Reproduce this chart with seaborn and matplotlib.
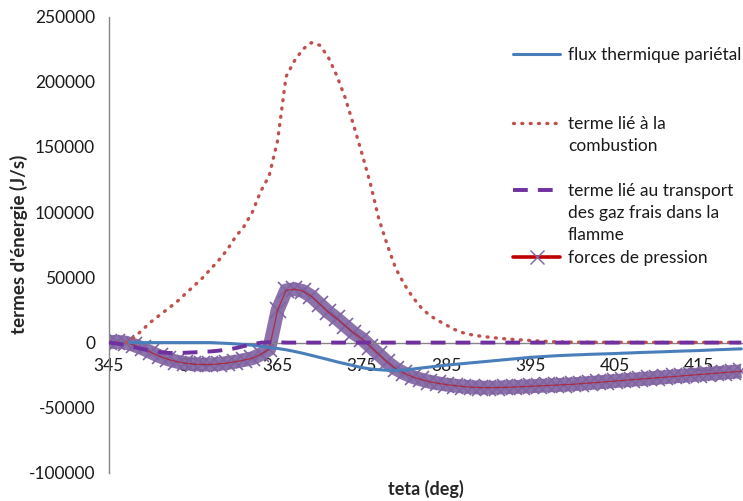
import numpy as np
import pandas as pd
import matplotlib
matplotlib.use("Agg")
import matplotlib.pyplot as plt
from matplotlib.lines import Line2D
import seaborn as sns

# crank angle (deg), one value per degree
teta = list(range(345, 421))

flux_parietal = [0, 0, 0, 0, 0, 0, 0, 0, 0, 0, 0, 0, 0,
                 -300, -600, -1000, -1500, -2000, -2700, -3800,
                 -4500, -5500, -6800, -8200, -9800, -11400, -13000, -14700,
                 -16200, -17700, -19200, -20200, -20800, -21200, -21300, -21000,
                 -20300, -19500, -18800, -18000, -17300, -16700, -16100, -15500,
                 -14900, -14300, -13700, -13100, -12500, -11900, -11300, -10900,
                 -10500, -10100, -9800, -9500,
                 -9300, -9000, -8800, -8600, -8400, -8100, -7900, -7600, -7400, -7200,
                 -7000, -6700, -6500, -6300, -6100, -5800, -5500, -5300, -5000, -4800]

combustion = [0, 0, 0, 4000, 10000, 16000, 21000, 26000, 31000, 37000,
              43000, 49000, 56000, 63000, 71000, 81000, 89000, 100000, 116000, 128000,
              155000, 204000, 216000, 225000, 230000, 228000, 219000, 205000, 188000, 167000,
              145000, 122000, 95000, 75000, 57000, 45000, 35000, 27000, 21000, 17000,
              13500, 10000, 7500, 6000, 5000, 4200, 3500, 2900, 2400, 2000,
              1600, 1200, 900, 600, 450, 350,
              300, 300, 250, 250, 250, 200, 200, 200, 200, 200,
              150, 150, 150, 150, 150, 150, 100, 100, 100, 100]

transport = [0, -800, -2000, -3500, -5000, -6300, -7300, -7900, -8000, -7800,
             -7500, -7200, -6800, -6200, -5300, -4300, -2700, -1200, -100, 300, 300] + [0] * 55

pression = [500, 500, 0, -2000, -4500, -7500, -10500, -12800, -14600, -15800,
            -16500, -16800, -16800, -16400, -15700, -14700, -13400, -12000, -9000, -5000,
            25000, 40000, 41000, 39500, 35500, 29500, 23500, 18500, 13000, 7500,
            3000, -3000, -9000, -15000, -20000, -23500, -26300, -28300, -30000, -31200,
            -32200, -33000, -33700, -34200, -34500, -34600, -34500, -34300, -34100, -33800,
            -33500, -33200, -32900, -32600, -32300, -32000,
            -31500, -31000, -30500, -30000, -29500, -29000, -28500, -28000, -27500, -27000,
            -26500, -26000, -25500, -25000, -24500, -24000, -23500, -23000, -22500, -22000]

labels = ["flux thermique pariétal",
          "terme lié à la\ncombustion",
          "terme lié au transport\ndes gaz frais dans la\nflamme",
          "forces de pression"]

blue, red_dot, purple, red_line, lilac = "#4A7EBB", "#C0504D", "#7030A0", "#C00000", "#8064A2"
dotted = (0, (0.3, 2.2))
dashed = (0, (3.8, 2.6))

sns.set_style("white")
plt.rcParams["font.family"] = ["Lato", "DejaVu Sans"]
plt.rcParams["axes.unicode_minus"] = False

df = pd.DataFrame({"teta": teta, "flux": flux_parietal, "comb": combustion,
                   "transp": transport, "press": pression})

fig = plt.figure(figsize=(7.43, 5.01), dpi=100)
ax = fig.add_axes([0.1467, 0.0559, 0.8533, 0.911])

# forces de pression: dense purple X markers forming a band, red line through it
sns.lineplot(data=df, x="teta", y="press", ax=ax, color=lilac, lw=10, alpha=0.9,
             solid_capstyle="butt", legend=False, zorder=2)
sns.lineplot(data=df, x="teta", y="press", ax=ax, color=lilac, lw=0, marker="x",
             markersize=11, markeredgecolor=lilac, markeredgewidth=1.2,
             legend=False, zorder=2)
sns.lineplot(data=df, x="teta", y="press", ax=ax, color=red_line, lw=0.9,
             alpha=0.6, legend=False, zorder=3)

sns.lineplot(data=df, x="teta", y="flux", ax=ax, color=blue, lw=2.2, legend=False, zorder=4)
sns.lineplot(data=df, x="teta", y="comb", ax=ax, color=red_dot, lw=2.4,
             linestyle=dotted, dash_capstyle="round", legend=False, zorder=4)
sns.lineplot(data=df, x="teta", y="transp", ax=ax, color=purple, lw=2.8,
             linestyle=dashed, legend=False, zorder=4)

ax.set_xlim(345, 420.2)
ax.set_ylim(-100000, 250000)
ax.set_xticks(range(345, 420, 10))
ax.set_yticks(range(-100000, 250001, 50000))
ax.ticklabel_format(axis="y", style="plain", useOffset=False)

for s in ["top", "right"]:
    ax.spines[s].set_visible(False)
ax.spines["bottom"].set_position(("data", 0))
for s in ["left", "bottom"]:
    ax.spines[s].set_color("#868686")
    ax.spines[s].set_linewidth(1.0)
ax.tick_params(axis="both", which="both", direction="out", length=5, width=1,
               color="#868686", labelsize=12.5, labelcolor="#1a1a1a")
ax.tick_params(axis="x", pad=6)
ax.tick_params(axis="y", pad=5)

ax.set_xlabel("teta (deg)", fontsize=13, fontweight="bold")
ax.xaxis.set_label_coords(0.5, -0.016)
ax.set_ylabel("termes d'énergie (J/s)", fontsize=13.5, fontweight="bold")
ax.yaxis.set_label_coords(-0.127, 0.5)

# legend, drawn by hand so the key sits on the first text line (as in Excel)
W, H = 743.0, 501.0
rows = [54, 123, 190, 257]
handle_kw = [
    dict(color=blue, lw=2.2),
    dict(color=red_dot, lw=2.4, linestyle=dotted, dash_capstyle="round"),
    dict(color=purple, lw=2.8, linestyle=dashed),
    dict(color=red_line, lw=2.6, marker="x", markersize=10, markevery=[1],
         markeredgecolor=lilac, markeredgewidth=1.0),
]
for kw, lab, yc in zip(handle_kw, labels, rows):
    y = 1 - yc / H
    fig.add_artist(Line2D([513 / W, 536.5 / W, 560 / W], [y, y, y],
                          transform=fig.transFigure, **kw))
    fig.text(568 / W, 1 - (yc - 7) / H, lab, ha="left", va="top",
             fontsize=12.5, color="#1a1a1a", linespacing=1.45)

fig.savefig("out.png", dpi=100)
